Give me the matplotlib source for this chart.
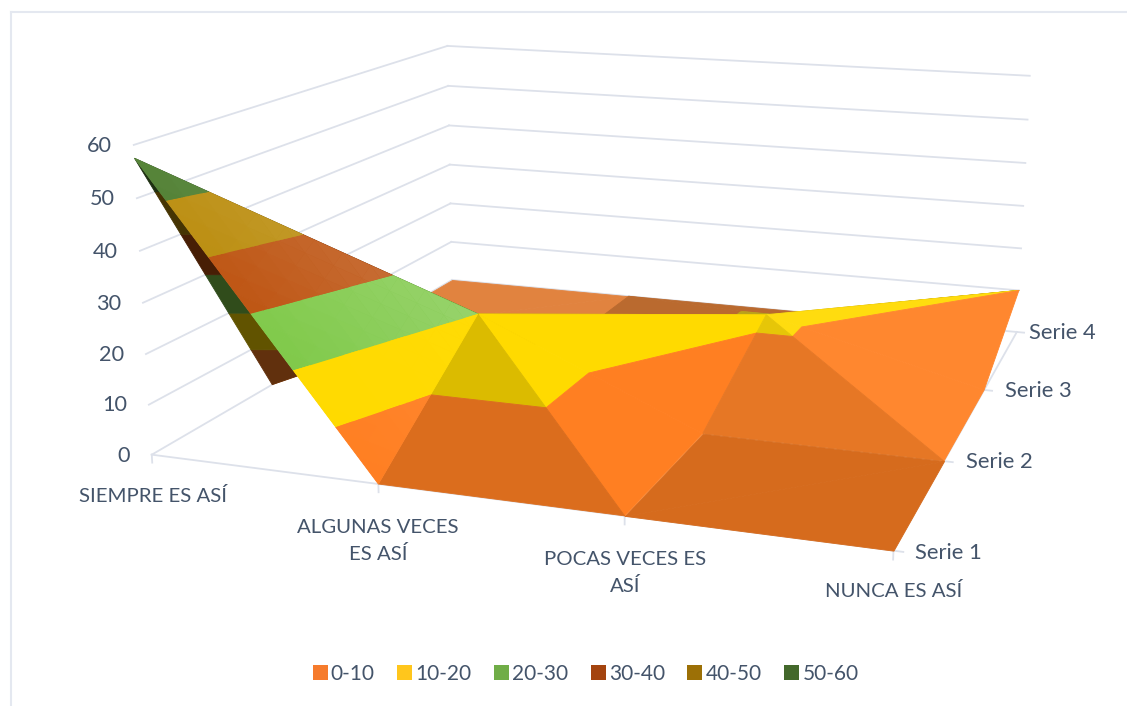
"""Surface chart with z bands, drawn on a 3D axes with a camera fitted to the picture."""
import numpy as np
import matplotlib
matplotlib.use("Agg")
import matplotlib.pyplot as plt
from matplotlib.lines import Line2D
from matplotlib.patches import Patch
from mpl_toolkits.mplot3d.art3d import Poly3DCollection

categories = ["SIEMPRE ES ASÍ", "ALGUNAS VECES\nES ASÍ", "POCAS VECES ES\nASÍ", "NUNCA ES ASÍ"]
series = ["Serie 1", "Serie 2", "Serie 3", "Serie 4"]
serie_1 = [57.5, 0, 0, 0]
serie_2 = [0, 20, 0, 0]
serie_3 = [0, 0, 12, 0]
serie_4 = [0, 0, 0, 10]
z_ticks = [0, 10, 20, 30, 40, 50, 60]
band_names = ["0-10", "10-20", "20-30", "30-40", "40-50", "50-60"]
band_colors = ["#FF7F22", "#FFDA00", "#7DC846", "#BC500C", "#B98A08", "#4B7C2C"]
band_gloss = [0.4, 0.1, 1.0, 1.0, 1.0, 1.0]
legend_colors = ["#F67B2C", "#FFC61C", "#70AD47", "#A4440F", "#9C7006", "#43682B"]

TEXT = "#44546A"
GRID = "#DDE1EA"
W, H = 1127, 706

plt.rcParams["font.family"] = ["Lato", "DejaVu Sans"]

Z = np.array([serie_1, serie_2, serie_3, serie_4], float)

fig = plt.figure(figsize=(W / 100, H / 100), dpi=100)
S = 976.1
ax = fig.add_axes([126.04 / W, -44.70 / H, S / W, S / H], projection="3d")
ax.set_xlim(0, 3)
ax.set_ylim(0, 3)
ax.set_zlim(0, 60)
ax.view_init(13.7378, -70.8883, -0.1083)
ax.set_proj_type("persp", focal_length=0.3764)
ax.set_box_aspect((1.9278, 1.8849, 0.8080))
ax.set_axis_off()
ax.computed_zorder = False
ax.patch.set_alpha(0)

# walls and floor
nx, ny = len(categories), len(series)
for t in z_ticks:
    ax.plot([0, 0], [0, ny - 1], [t, t], color=GRID, lw=1.3, zorder=1)
    ax.plot([0, nx - 1], [ny - 1, ny - 1], [t, t], color=GRID, lw=1.3, zorder=1)
ax.plot([0, nx - 1], [0, 0], [0, 0], color=GRID, lw=1.3, zorder=1)
ax.plot([nx - 1, nx - 1], [0, ny - 1], [0, 0], color=GRID, lw=1.3, zorder=1)
for i in range(nx):
    ax.plot([i, i], [0, 0], [0, -1.6], color=GRID, lw=1.3, zorder=1)
for j in range(ny):
    ax.plot([nx - 1, nx - 1 + 0.035], [j, j], [0, 0], color=GRID, lw=1.3, zorder=1)


def clip(poly, lo, hi):
    """Keep the part of a polygon with lo <= z <= hi."""
    for level, sign in ((lo, 1), (hi, -1)):
        out = []
        for a, b in zip(poly, poly[1:] + poly[:1]):
            da, db = sign * (a[2] - level), sign * (b[2] - level)
            if da >= 0:
                out.append(a)
            if da * db < 0:
                t = da / (da - db)
                out.append(tuple(a[k] + t * (b[k] - a[k]) for k in range(3)))
        poly = out
        if len(poly) < 3:
            return []
    return poly


def shaded(color, mul, tint):
    rgb = np.array(matplotlib.colors.to_rgb(color)) * mul
    return tuple(rgb * (1 - tint) + tint)


def band_cells(poly, mul, tint, base):
    cells, colors = [], []
    for k, col in enumerate(band_colors):
        part = clip(poly, z_ticks[k], z_ticks[k + 1])
        if part:
            cells.append(part)
            colors.append(shaded(col, mul, base + (tint - base) * band_gloss[k]))
    return cells, colors


def add_collection(cells, colors, lw):
    pc = Poly3DCollection(cells, facecolors=colors, edgecolors=colors, linewidths=lw)
    pc.set_zorder(add_facet.order)
    add_facet.order += 1
    ax.add_collection3d(pc)


def add_facet(corners, mul, tints, n=12):
    """One triangle of the surface; a flat base, then small cells so the tint can run across it."""
    pts = np.array([(i, j, Z[j, i]) for i, j in corners], float)
    tints = np.array(tints, float)
    low = float(tints.min())
    whole = [tuple(p) for p in pts]
    cells, colors = band_cells(whole, mul, float(tints.mean()), low)
    add_collection(cells, colors, 0.6)
    if np.ptp(tints) == 0:
        return
    cells, colors = [], []
    for a in range(n):
        for b in range(n - a):
            tris = [[(a, b), (a + 1, b), (a, b + 1)]]
            if a + b < n - 1:
                tris.append([(a + 1, b), (a + 1, b + 1), (a, b + 1)])
            for tri in tris:
                weights = [np.array([u, v, n - u - v]) / n for u, v in tri]
                poly = [tuple(w @ pts) for w in weights]
                tint = float(np.mean([w @ tints for w in weights]))
                c, f = band_cells(poly, mul, tint, low)
                cells += c
                colors += f
    add_collection(cells, colors, 0)


add_facet.order = 2
# painted from the back to the front
add_facet([(0, 2), (1, 2), (1, 3)], 0.86, (0.15, 0.15, 0.15))
add_facet([(0, 2), (1, 3), (0, 3)], 0.86, (0.15, 0.15, 0.15))
add_facet([(1, 2), (2, 2), (1, 3)], 0.70, (0.10, 0.10, 0.10))
add_facet([(2, 2), (2, 3), (1, 3)], 0.70, (0.10, 0.10, 0.10))
add_facet([(2, 2), (2, 3), (3, 3)], 0.70, (0.10, 0.10, 0.10))
add_facet([(0, 1), (1, 1), (0, 2)], 0.70, (0.10, 0.10, 0.10))
add_facet([(1, 1), (1, 2), (0, 2)], 0.70, (0.10, 0.10, 0.10))
add_facet([(1, 1), (2, 2), (1, 2)], 0.70, (0.10, 0.10, 0.10))
add_facet([(2, 2), (3, 2), (3, 3)], 1.00, (0.06, 0.06, 0.06))
add_facet([(2, 2), (3, 1), (3, 2)], 1.00, (0.06, 0.06, 0.06))
add_facet([(1, 1), (2, 1), (2, 2)], 1.00, (0.00, 0.00, 0.00))
add_facet([(2, 1), (3, 1), (2, 2)], 0.90, (0.03, 0.03, 0.03))
add_facet([(2, 0), (3, 0), (3, 1)], 0.84, (0.00, 0.00, 0.00))
add_facet([(2, 0), (3, 1), (2, 1)], 0.84, (0.00, 0.00, 0.00))
add_facet([(2, 0), (2, 1), (1, 1)], 1.00, (0.00, 0.00, 0.00))
add_facet([(1, 0), (2, 0), (1, 1)], 0.86, (0.00, 0.00, 0.00))
add_facet([(0, 0), (0, 1), (1, 1)], 0.38, (0.00, 0.00, 0.00))
add_facet([(0, 0), (1, 0), (1, 1)], 1.00, (0.06, 0.00, 0.20))


def label(x, y, s, ha="center", fs=15):
    fig.text(x / W, 1 - y / H, s, ha=ha, va="center", color=TEXT, fontsize=fs, linespacing=1.62)


for t, (x, y) in zip(z_ticks, [(130, 456), (127, 405), (124, 355), (121, 304), (118, 252), (115, 199), (112, 146)]):
    label(x, y, str(t), ha="right", fs=15.6)
for s, (x, y) in zip(categories, [(153, 496), (378, 541), (625, 573), (894, 591)]):
    label(x, y, s, fs=14.7)
for s, (x, y) in zip(series, [(915, 553), (966, 462), (1005, 391), (1029, 333)]):
    label(x, y, s, ha="left", fs=15.8)

handles = [Patch(facecolor=c, edgecolor="none") for c in legend_colors]
fig.legend(handles, band_names, ncol=6, frameon=False, loc="center", bbox_to_anchor=(585.5 / W, 1 - 674 / H),
           fontsize=15, handlelength=0.72, handleheight=0.72, handletextpad=0.15, columnspacing=1.08,
           labelcolor=TEXT)

# chart area border, only the top and left are inside the crop
fig.add_artist(Line2D([11 / W, 11 / W], [0, 1 - 12 / H], color="#E4E8F0", lw=1.5))
fig.add_artist(Line2D([11 / W, 1], [1 - 12 / H, 1 - 12 / H], color="#E4E8F0", lw=1.5))

fig.savefig("out.png", dpi=100)
